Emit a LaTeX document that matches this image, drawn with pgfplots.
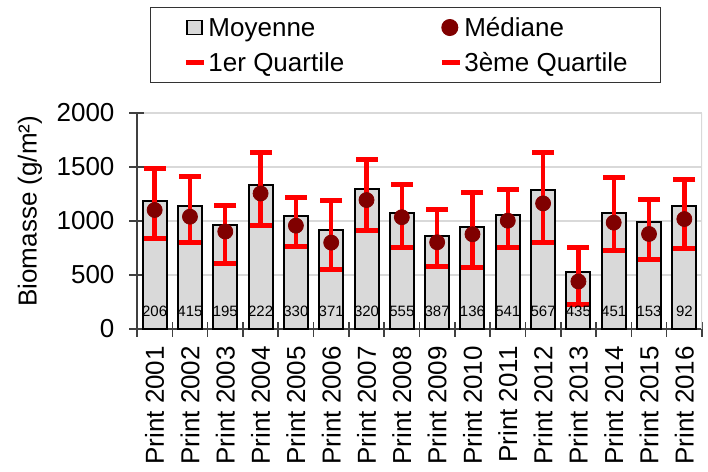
\documentclass[border=0pt]{standalone}
\usepackage{fontspec}
\setmainfont{Liberation Sans}
\usepackage{pgfplots}
\pgfplotsset{compat=1.18}
\usepackage{pgfplotstable}
\definecolor{barfill}{HTML}{D9D9D9}
\definecolor{medc}{HTML}{800000}
\definecolor{gridc}{HTML}{D9D9D9}

\pgfplotstableread{
x med q1 q3 mean n ly
0 1102 834 1486 1185 206 167
1 1040 803 1409 1138 415 167
2 902 609 1142 963 195 167
3 1255 957 1631 1332 222 167
4 957 763 1215 1049 330 167
5 800 548 1188 917 371 167
6 1194 911 1572 1292 320 167
7 1035 754 1338 1077 555 167
8 803 578 1102 862 387 167
9 877 572 1265 948 136 167
10 1003 754 1295 1055 541 167
11 1163 803 1634 1286 567 167
12 440 231 754 532 435 167
13 985 726 1403 1071 451 167
14 880 646 1200 994 153 167
15 1018 742 1385 1138 92 167
}\data

\begin{document}
\begin{tikzpicture}
\path[use as bounding box] (-68.5pt,-71.5pt) rectangle (285.5pt,164.5pt);
\begin{axis}[
  at={(0,0)}, anchor=south west,
  scale only axis, width=282.5pt, height=108pt,
  xmin=-0.5, xmax=15.5, ymin=0, ymax=2000,
  ytick={0,500,...,2000},
  xtick={-0.5,0.5,1.5,2.5,3.5,4.5,5.5,6.5,7.5,8.5,9.5,10.5,11.5,12.5,13.5,14.5,15.5},
  xticklabels={},
  extra x ticks={0,1,2,3,4,5,6,7,8,9,10,11,12,13,14,15},
  extra x tick labels={Print 2001,Print 2002,Print 2003,Print 2004,Print 2005,Print 2006,Print 2007,Print 2008,Print 2009,Print 2010,Print 2011,Print 2012,Print 2013,Print 2014,Print 2015,Print 2016},
  extra x tick style={major tick length=0pt, tick style={draw=none}},
  tick align=center,
  major tick length=7.5pt,
  ymajorgrids, grid style={gridc, line width=0.8pt},
  axis lines*=left,
  axis line style={black!75, line width=0.8pt},
  tick style={black!75, line width=0.8pt},
  ylabel={Biomasse (g/m²)},
  ylabel style={at={(axis description cs:-0.1894,0.545)}, anchor=center},
  label style={font=\fontsize{13}{15}\selectfont},
  tick label style={font=\fontsize{13}{15}\selectfont},
  /pgf/number format/assume math mode=true,
  /pgf/number format/1000 sep={},
  xticklabel style={rotate=90, anchor=east},
  xticklabel shift=5pt,
  yticklabel shift=4pt,
  legend columns=2,
  legend cell align=left,
  legend style={at={(0.023,1.4907)}, anchor=north west, draw=black!80, line width=0.5pt,
    inner xsep=16.5pt, inner ysep=3.75pt, font=\fontsize{13}{15}\selectfont,
    column sep=1pt, row sep=5pt,
    /tikz/every even column/.append style={column sep=47.5pt},
    nodes={inner sep=0pt, text height=10.5pt, text depth=2pt}},
]
\addlegendimage{legend image code/.code={\draw[fill=barfill, draw=black, line width=0.8pt] (0.5pt,-3.5pt) rectangle (8pt,3.5pt);}}
\addlegendimage{legend image code/.code={\fill[medc] (4pt,0pt) circle (4pt);}}
\addlegendimage{legend image code/.code={\draw[red, line width=2.5pt] (0pt,0pt) -- (9pt,0pt);}}
\addlegendimage{legend image code/.code={\draw[red, line width=2.5pt] (0pt,0pt) -- (9pt,0pt);}}
\legend{Moyenne,Médiane,1er Quartile,3ème Quartile}

\addplot[ybar, bar width=12pt, fill=barfill, draw=black, line width=1pt] table[x=x, y=mean] {\data};
\addplot[draw=none, mark=none,
  error bars/.cd, y dir=both, y explicit,
  error mark=none,
  error bar style={red, line width=2.2pt}]
  table[x=x, y=med, y error plus expr=\thisrow{q3}-\thisrow{med}, y error minus expr=\thisrow{med}-\thisrow{q1}] {\data};
\addplot[only marks, mark=-, mark size=5.5pt, mark options={draw=red, line width=2.5pt}] table[x=x, y=q1] {\data};
\addplot[only marks, mark=-, mark size=5.5pt, mark options={draw=red, line width=2.5pt}] table[x=x, y=q3] {\data};
\addplot[only marks, mark=*, mark size=3.75pt, mark options={fill=medc, draw=medc}] table[x=x, y=med] {\data};
\addplot[draw=none, mark=none, nodes near coords, point meta=explicit symbolic,
  nodes near coords style={font=\fontsize{7.5}{9}\selectfont, anchor=center, inner sep=0pt, black}]
  table[x=x, y=ly, meta=n] {\data};
\draw[gridc, line width=0.8pt] (rel axis cs:1,0) -- (rel axis cs:1,1);
\end{axis}
\end{tikzpicture}
\end{document}
